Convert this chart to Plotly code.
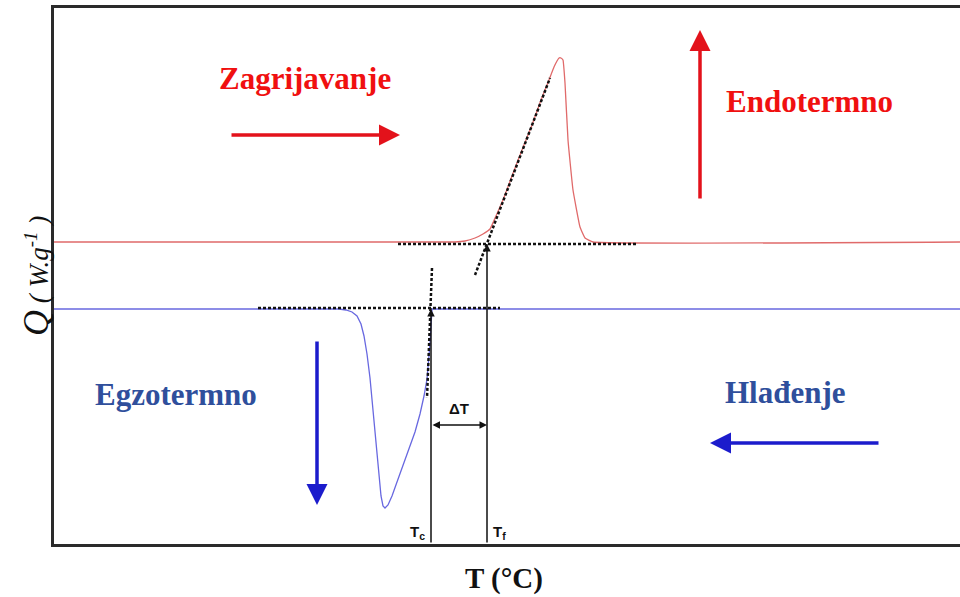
import plotly.graph_objects as go

# Heating (red) DSC curve, arbitrary units (T, Q)
heat_T = [0, 401, 411, 421, 429, 436, 442, 449, 458, 468, 478, 487, 495, 500, 503, 505, 507, 509, 511, 514, 519, 526, 531, 539, 906]
heat_Q = [302, 302, 303, 306, 310, 315, 328, 344, 368, 394, 419, 444, 464, 477, 483, 486, 486, 484, 461, 404, 354, 317, 306, 302, 302]

# Cooling (blue) DSC curve
cool_T = [0, 285, 292, 298, 303, 307, 310, 313, 316, 319, 322, 325, 327, 329, 331, 334, 338, 343, 349, 355, 361, 366, 370, 373, 375, 376, 377, 378, 906]
cool_Q = [235, 235, 234, 232, 228, 220, 208, 190, 166, 135, 100, 68, 48, 38, 36, 39, 48, 62, 78, 94, 112, 130, 148, 165, 185, 200, 218, 235, 235]

# Construction (dashed) lines
heat_base_T = [344, 583]
heat_base_Q = [300, 300]
heat_tan_T = [421, 496]
heat_tan_Q = [269, 466]
cool_base_T = [204, 446]
cool_base_Q = [236, 236]
cool_tan_T = [378, 373]
cool_tan_Q = [276, 146]

# Characteristic temperatures
T_c = 377
T_f = 433
Q_c = 235
Q_f = 300
dT_level = 119

fig = go.Figure()
fig.add_trace(go.Scatter(x=heat_T, y=heat_Q, mode="lines", line=dict(color="#E06A6A", width=1.3, shape="spline", smoothing=0.3), hoverinfo="skip"))
fig.add_trace(go.Scatter(x=cool_T, y=cool_Q, mode="lines", line=dict(color="#6868E0", width=1.3), hoverinfo="skip"))
for xs, ys in [(heat_base_T, heat_base_Q), (heat_tan_T, heat_tan_Q), (cool_base_T, cool_base_Q), (cool_tan_T, cool_tan_Q)]:
    fig.add_trace(go.Scatter(x=xs, y=ys, mode="lines", line=dict(color="#111111", width=2.5, dash="3px,2px"), hoverinfo="skip"))

ann = []
# vertical lines with arrowheads up
ann.append(dict(x=T_c, y=Q_c, ax=T_c, ay=0, xref="x", yref="y", axref="x", ayref="y", showarrow=True, arrowhead=2, arrowsize=1, arrowwidth=1.5, arrowcolor="#111", text=""))
ann.append(dict(x=T_f, y=Q_f, ax=T_f, ay=0, xref="x", yref="y", axref="x", ayref="y", showarrow=True, arrowhead=2, arrowsize=1, arrowwidth=1.5, arrowcolor="#111", text=""))
# delta T double arrow
ann.append(dict(x=T_f, y=dT_level, ax=T_c, ay=dT_level, xref="x", yref="y", axref="x", ayref="y", showarrow=True, arrowhead=2, startarrowhead=2, arrowside="end+start", arrowsize=1, arrowwidth=1.5, arrowcolor="#111", text=""))

# big direction arrows
big = [
    (346, 409, 176, 409, "#E3121B"),
    (646, 514, 646, 344, "#E3121B"),
    (263, 39, 263, 204, "#1C1CCC"),
    (656, 101, 826, 101, "#1C1CCC"),
]
for hx, hy, tx, ty, c in big:
    ann.append(dict(x=hx, y=hy, ax=tx, ay=ty, xref="x", yref="y", axref="x", ayref="y", showarrow=True, arrowhead=2, arrowsize=1.2, arrowwidth=3.5, arrowcolor=c, text=""))

red_t = "#F01010"
blue_t = "#2F4F9C"
serif = "Liberation Serif"
ann.append(dict(x=251, y=466, text="<b>Zagrijavanje</b>", showarrow=False, font=dict(family=serif, size=31, color=red_t)))
ann.append(dict(x=755, y=443, text="<b>Endotermno</b>", showarrow=False, font=dict(family=serif, size=31, color=red_t)))
ann.append(dict(x=122, y=150, text="<b>Egzotermno</b>", showarrow=False, font=dict(family=serif, size=31, color=blue_t)))
ann.append(dict(x=731, y=152, text="<b>Hlađenje</b>", showarrow=False, font=dict(family=serif, size=31, color=blue_t)))
ann.append(dict(x=(T_c + T_f) / 2, y=dT_level + 17, text="<b>ΔT</b>", showarrow=False, font=dict(family="Liberation Sans", size=15, color="#111")))
ann.append(dict(x=T_c - 14, y=12, text="<b>T<sub>c</sub></b>", showarrow=False, font=dict(family="Liberation Sans", size=15, color="#111")))
ann.append(dict(x=T_f + 12, y=12, text="<b>T<sub>f</sub></b>", showarrow=False, font=dict(family="Liberation Sans", size=15, color="#111")))
# axis titles
ann.append(dict(xref="paper", yref="paper", x=0, y=0.5, xshift=-40, text="<i><span style='font-size:36px'>Q</span> ( W.g<sup>-1</sup> )</i>", textangle=-90, showarrow=False, font=dict(family=serif, size=27, color="#111")))
ann.append(dict(xref="paper", yref="paper", x=0.5, y=0, yshift=-16, xshift=-3, yanchor="top", text="<b>T (°C)</b>", showarrow=False, font=dict(family=serif, size=29, color="#111")))

fig.update_layout(
    width=960, height=597,
    margin=dict(l=54, r=0, t=8, b=53),
    paper_bgcolor="white", plot_bgcolor="white",
    showlegend=False,
    annotations=ann,
    xaxis=dict(range=[0, 906], showgrid=False, zeroline=False, showticklabels=False, ticks="", showline=True, mirror=True, linecolor="#2a2a2a", linewidth=3),
    yaxis=dict(range=[0, 536], showgrid=False, zeroline=False, showticklabels=False, ticks="", showline=True, mirror=False, linecolor="#2a2a2a", linewidth=3),
)
fig.write_html("out.html", config={"displayModeBar": False}, post_script="document.body.style.margin='0';document.body.style.padding='0';")
